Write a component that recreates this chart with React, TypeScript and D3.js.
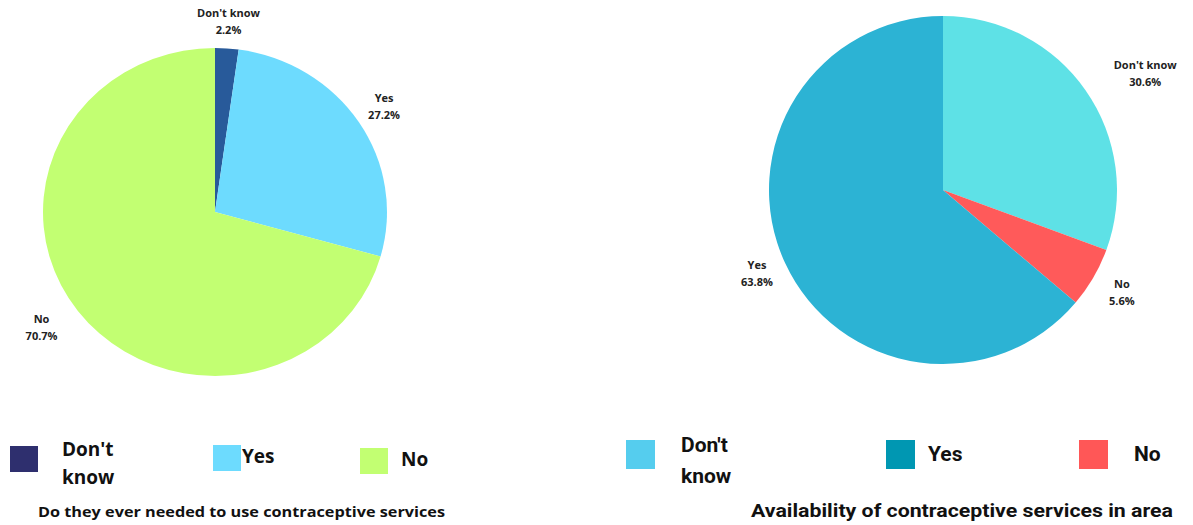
import React from "react";
import * as d3 from "d3";

const leftCategories = ["Don't know", "Yes", "No"];
const leftValues = [2.2, 27.2, 70.7];
const leftSliceColors = ["#285a9a", "#6ddbfe", "#c2ff72"];
const leftLegendColors = ["#2e2f6e", "#6ddbfe", "#c2ff72"];
const leftTitle = "Do they ever needed to use contraceptive services";

const rightCategories = ["Don't know", "No", "Yes"];
const rightValues = [30.6, 5.6, 63.8];
const rightSliceColors = ["#5ee1e6", "#ff5a5a", "#2cb3d4"];
const rightTitle = "Availability of contraceptive services in area";
const rightLegendCategories = ["Don't know", "Yes", "No"];
const rightLegendColors = ["#55cdee", "#0097b2", "#ff5757"];

type PieProps = {
  cats: string[];
  vals: number[];
  colors: string[];
  cx: number;
  cy: number;
  r: number;
  sx: number;
  labelR: number[];
  offsets: number[][];
};

function Pie({ cats, vals, colors, cx, cy, r, sx, labelR, offsets }: PieProps) {
  const pie = d3.pie<number>().sort(null).value((d) => d);
  const arcs = pie(vals);
  const arc = d3.arc<d3.PieArcDatum<number>>().innerRadius(0).outerRadius(r);
  return (
    <g>
      <g transform={`translate(${cx},${cy}) scale(${sx},1)`}>
        {arcs.map((a, i) => (
          <path key={i} d={arc(a) || ""} fill={colors[i]} />
        ))}
      </g>
      {arcs.map((a, i) => {
        const mid = (a.startAngle + a.endAngle) / 2;
        const lr = labelR[i];
        const x = cx + Math.sin(mid) * lr + offsets[i][0];
        const y = cy - Math.cos(mid) * lr + offsets[i][1];
        return (
          <text
            key={i}
            x={x}
            y={y}
            textAnchor="middle"
            fontFamily="'Open Sans', sans-serif"
            fontWeight={700}
            fontSize={11}
            fill="#222"
          >
            <tspan x={x} dy={-4}>{cats[i]}</tspan>
            <tspan x={x} dy={17}>{`${vals[i]}%`}</tspan>
          </text>
        );
      })}
    </g>
  );
}

export default function App() {
  const leftSq = [
    { x: 10, y: 446 },
    { x: 213, y: 445 },
    { x: 360, y: 448 },
  ];
  const leftTxt = [
    { x: 62, y: 456 },
    { x: 242, y: 463 },
    { x: 401, y: 466 },
  ];
  const rightSq = [
    { x: 626, y: 440 },
    { x: 886, y: 440 },
    { x: 1079, y: 440 },
  ];
  const rightTxt = [
    { x: 681, y: 452 },
    { x: 928, y: 461 },
    { x: 1134, y: 461 },
  ];
  const renderLabel = (
    label: string,
    x: number,
    y: number,
    family: string,
    size: number,
    weight: number,
    lh: number
  ) => {
    const parts = label === "Don't know" ? ["Don't", "know"] : [label];
    return (
      <text fontFamily={family} fontSize={size} fontWeight={weight} fill="#111">
        {parts.map((p, j) => (
          <tspan key={j} x={x} y={y + j * lh}>
            {p}
          </tspan>
        ))}
      </text>
    );
  };
  return (
    <svg
      width={1193}
      height={525}
      style={{ position: "absolute", left: 0, top: 0, background: "#fff" }}
    >
      <rect width={1193} height={525} fill="#fff" />
      <Pie
        cats={leftCategories}
        vals={leftValues}
        colors={leftSliceColors}
        cx={215}
        cy={212}
        r={164}
        sx={172 / 164}
        labelR={[196, 202, 205]}
        offsets={[[0, 5], [0, 5], [-10, -9]]}
      />
      <Pie
        cats={rightCategories}
        vals={rightValues}
        colors={rightSliceColors}
        cx={943}
        cy={190}
        r={174}
        sx={1}
        labelR={[232, 207, 205]}
        offsets={[[12, 16], [0, -2], [0, -3]]}
      />
      {leftCategories.map((c, i) => (
        <g key={"l" + i}>
          <rect x={leftSq[i].x} y={leftSq[i].y} width={28} height={26} fill={leftLegendColors[i]} />
          {renderLabel(c, leftTxt[i].x, leftTxt[i].y, "'Open Sans', sans-serif", 19, 700, 28)}
        </g>
      ))}
      <text
        x={38}
        y={517}
        fontFamily="'Open Sans', sans-serif"
        fontWeight={700}
        fontSize={15}
        fill="#111"
        textLength={407}
        lengthAdjust="spacingAndGlyphs"
      >
        {leftTitle}
      </text>
      {rightLegendCategories.map((c, i) => (
        <g key={"r" + i}>
          <rect x={rightSq[i].x} y={rightSq[i].y} width={29} height={29} fill={rightLegendColors[i]} />
          {renderLabel(c, rightTxt[i].x, rightTxt[i].y, "Roboto, sans-serif", 21, 700, 31)}
        </g>
      ))}
      <text
        x={751}
        y={517}
        fontFamily="Roboto, sans-serif"
        fontWeight={700}
        fontSize={18}
        fill="#111"
        textLength={422}
        lengthAdjust="spacingAndGlyphs"
      >
        {rightTitle}
      </text>
    </svg>
  );
}
